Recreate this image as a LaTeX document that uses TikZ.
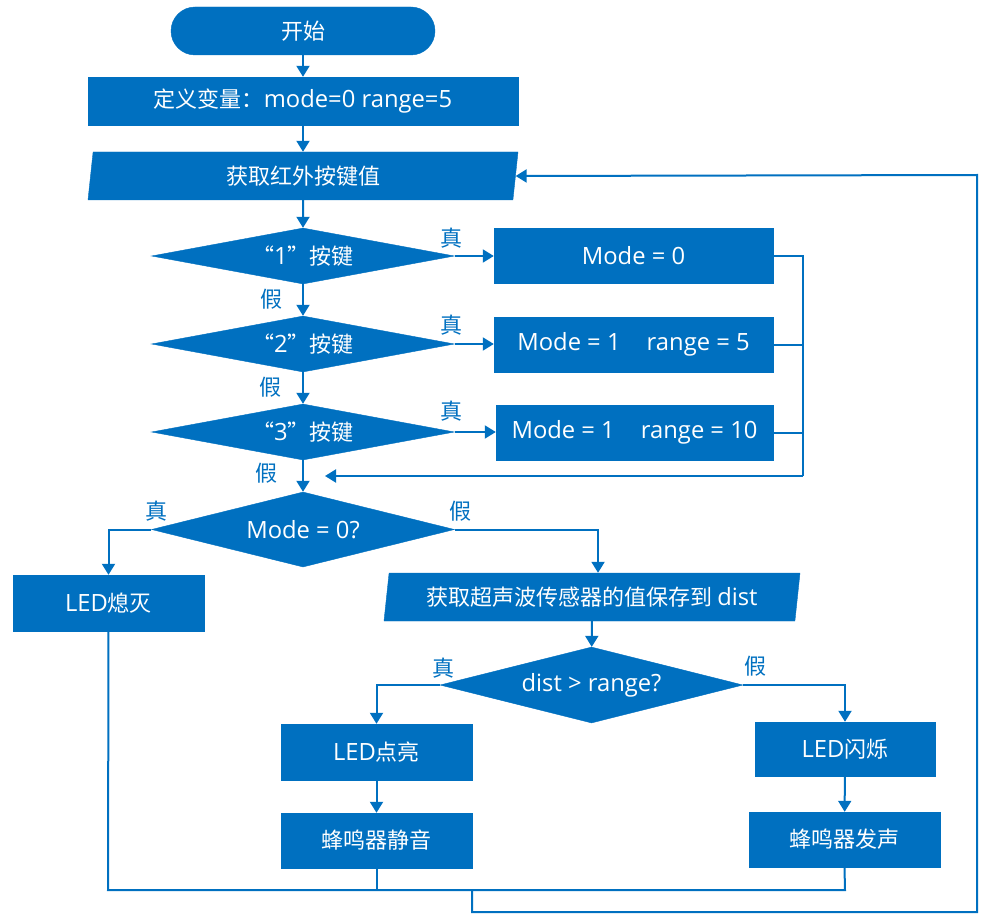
\documentclass[tikz,border=0pt]{standalone}
\usepackage{fontspec}
\setmainfont{Noto Sans CJK SC}
\newfontfamily\lat[Scale=1.08]{Open Sans}
\usetikzlibrary{shapes.geometric,arrows.meta}
\definecolor{fc}{HTML}{0070C0}
\begin{document}
\begin{tikzpicture}[x=1pt,y=-1pt,
  base/.style={fill=fc,draw=fc,text=white,inner sep=0pt,font=\fontsize{22}{26}\selectfont},
  boxs/.style={base,rectangle,minimum width=#1,minimum height=55pt},
  startbox/.style={base,rectangle,rounded corners=24pt,minimum width=264pt,minimum height=48pt},
  dia/.style={base,diamond,aspect=5.4,minimum width=303pt,minimum height=#1},
  para/.style={base,trapezium,trapezium left angle=76,trapezium right angle=104,trapezium stretches body,minimum width=#1,minimum height=48pt},
  conn/.style={draw=fc,line width=2pt},
  arr/.style={conn,-{Triangle[width=13pt,length=11pt]}},
  lab/.style={text=fc,font=\fontsize{22}{26}\selectfont,inner sep=0pt}]
\useasboundingbox (0,0) rectangle (997,923);
% nodes
\node[startbox] (start) at (303,31) {开始};
\node[base,rectangle,minimum width=430pt,minimum height=48pt] (def) at (303,101) {定义变量：{\lat mode=0 range=5}};
\node[para=430pt] (in1) at (303,176) {获取红外按键值};
\node[dia=56pt] (d1) at (303,256) {“{\lat 1}”按键};
\node[dia=56pt] (d2) at (303,344) {“{\lat 2}”按键};
\node[dia=56pt] (d3) at (303,432) {“{\lat 3}”按键};
\node[boxs=279pt] (b1) at (633.5,256) {\lat Mode = 0};
\node[boxs=279pt] (b2) at (633.5,344.5) {\lat Mode = 1\hspace{1.1em}range = 5};
\node[boxs=277pt] (b3) at (634.5,432.5) {\lat Mode = 1\hspace{1.1em}range = 10};
\node[dia=75pt] (d4) at (303,529.5) {\lat Mode = 0?};
\node[boxs=191pt,minimum height=56pt] (off) at (108.5,603) {{\lat LED}熄灭};
\node[para=416pt] (in2) at (592,597) {获取超声波传感器的值保存到 {\lat dist}};
\node[dia=76pt] (d5) at (591.5,685) {\lat dist > range?};
\node[boxs=191pt,minimum height=56pt] (on) at (376.5,752) {{\lat LED}点亮};
\node[boxs=191pt,minimum height=55pt] (mute) at (376.5,840.5) {蜂鸣器静音};
\node[boxs=180pt,minimum height=54pt] (blink) at (845,749) {{\lat LED}闪烁};
\node[boxs=191pt,minimum height=55pt] (buzz) at (844.5,839.5) {蜂鸣器发声};
% labels
\node[lab] at (451,238) {真};
\node[lab] at (451,325) {真};
\node[lab] at (451,411) {真};
\node[lab] at (271,299) {假};
\node[lab] at (270,387) {假};
\node[lab] at (266,473) {假};
\node[lab] at (156,511) {真};
\node[lab] at (460,511) {假};
\node[lab] at (443,668) {真};
\node[lab] at (755,666) {假};
% coordinates
\coordinate (j) at (803,476);
\coordinate (ret) at (325,476);
\coordinate (bl) at (108,890);
\coordinate (br) at (845,890);
\coordinate (lm) at (472,890);
\coordinate (lb) at (472,912);
\coordinate (rb) at (977,912);
\coordinate (rt) at (977,175);
% connectors
\draw[arr] (start) -- (def);
\draw[arr] (def) -- (in1);
\draw[arr] (in1) -- (d1);
\draw[arr] (d1) -- (d2);
\draw[arr] (d2) -- (d3);
\draw[arr] (d3) -- (d4);
\draw[arr] (d1.east) -- (b1.west);
\draw[arr] (d2.east) -- (b2.west |- d2.east);
\draw[arr] (d3.east) -- (b3.west |- d3.east);
\draw[conn] (b1.east) -| (j);
\draw[conn] (b2.east) -- (b2.east -| j);
\draw[conn] (b3.east) -- (b3.east -| j);
\draw[arr] (j) -- (ret);
\draw[arr] (d4.west) -| (off.north);
\draw[arr] (d4.east) -| ([xshift=6pt]in2.north);
\draw[arr] (in2) -- (d5);
\draw[arr] (d5.west) -| (on.north);
\draw[arr] (d5.east) -| (blink.north);
\draw[arr] (on) -- (mute);
\draw[arr] (blink) -- (buzz);
\draw[conn] (off.south) -- (bl) -- (br) -- (buzz.south);
\draw[conn] (mute.south) -- (mute.south |- bl);
\draw[arr] (lm) -- (lb) -- (rb) -- (rt) -- (in1.east);
\end{tikzpicture}
\end{document}
